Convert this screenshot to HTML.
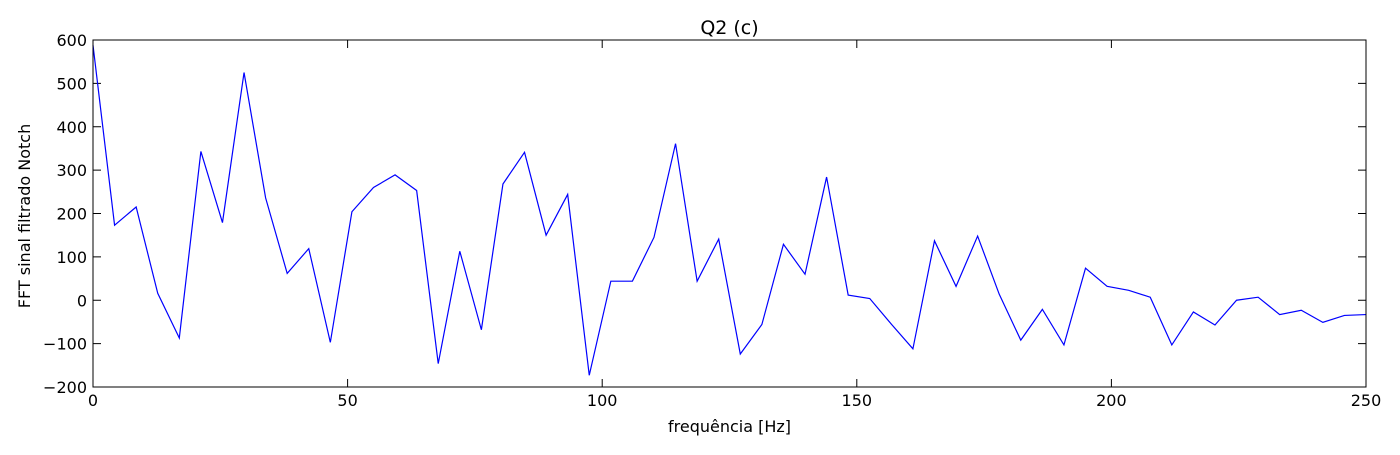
<!DOCTYPE html>
<html><head><meta charset="utf-8"><style>
body{margin:0;background:#fff;}
svg text{font-family:"DejaVu Sans","Liberation Sans",sans-serif;font-size:16px;fill:#000;}
</style></head><body>
<svg width="1400" height="450" xmlns="http://www.w3.org/2000/svg">
<g id="ticks"></g>
<polyline id="line" fill="none" stroke="#0000ff" stroke-width="1.2"/>
<rect x="93" y="40" width="1273" height="347" fill="none" stroke="#000" stroke-width="1"/>
<text x="729.5" y="34" text-anchor="middle" style="font-size:19px">Q2 (c)</text>
<text x="729.5" y="432" text-anchor="middle">frequência [Hz]</text>
<text transform="translate(30,216) rotate(-90)" text-anchor="middle">FFT sinal filtrado Notch</text>
</svg>
<script>
const values=[588,173,215,16,-87,343,179,525,236,62,119,-97,204,260,289,253,-146,113,-68,268,341,150,244,-173,44,44,145,361,44,141,-124,-56,129,60,284,12,4,-55,-112,137,32,148,14,-92,-21,-103,74,32,23,7,-103,-27,-57,0,7,-33,-23,-51,-35,-33];
const xTicks=[0,50,100,150,200,250];
const yTicks=[-200,-100,0,100,200,300,400,500,600];
const X0=93,X1=1366,Y0=387,Y1=40;
const sx=v=>X0+(v-0)/250*(X1-X0);
const sy=v=>Y0-(v+200)/800*(Y0-Y1);
const step=250/(values.length-1);
document.getElementById('line').setAttribute('points',values.map((v,i)=>sx(i*step)+','+sy(v)).join(' '));
const g=document.getElementById('ticks');const NS='http://www.w3.org/2000/svg';
function mk(t,a){const e=document.createElementNS(NS,t);for(const k in a)e.setAttribute(k,a[k]);g.appendChild(e);return e;}
xTicks.forEach(t=>{const x=sx(t);
mk('line',{x1:x,x2:x,y1:Y0,y2:Y0-8,stroke:'#000'});
mk('line',{x1:x,x2:x,y1:Y1,y2:Y1+8,stroke:'#000'});
const e=mk('text',{x:x,y:Y0+19,'text-anchor':'middle'});e.textContent=t;

});
yTicks.forEach(t=>{const y=sy(t);
mk('line',{x1:X0,x2:X0+8,y1:y,y2:y,stroke:'#000'});
mk('line',{x1:X1,x2:X1-8,y1:y,y2:y,stroke:'#000'});
const e=mk('text',{x:X0-6,y:y+6,'text-anchor':'end'});e.textContent=t<0?'\u2212'+(-t):t;

});
</script>
</body></html>
